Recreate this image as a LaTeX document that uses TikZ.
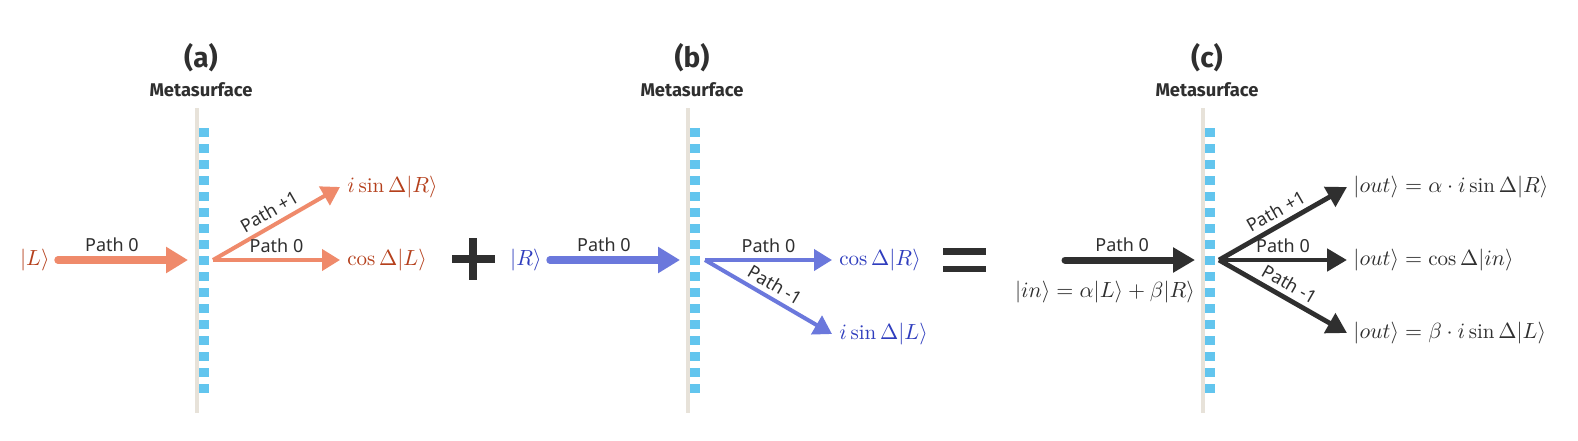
\documentclass[tikz,border=0pt]{standalone}
\usepackage{fontspec}
\newfontfamily\sansf{Noto Sans}
\newfontfamily\boldf{Fira Sans}
\usetikzlibrary{arrows.meta}
\definecolor{orA}{HTML}{EF8A6B}
\definecolor{orT}{HTML}{B5401C}
\definecolor{blA}{HTML}{6B78DC}
\definecolor{blT}{HTML}{2F3DBE}
\definecolor{dk}{HTML}{2F2F2F}
\definecolor{surf}{HTML}{E7E2D9}
\definecolor{sq}{HTML}{62C5EE}
\begin{document}
\begin{tikzpicture}[x=0.5pt,y=-0.5pt,
  title/.style={font=\boldf\bfseries\fontsize{14}{16}\selectfont, text=dk, inner sep=0pt},
  mslbl/.style={font=\boldf\bfseries\fontsize{9.2}{10}\selectfont, text=dk, inner sep=0pt},
  pathlbl/.style={font=\sansf\fontsize{9}{10}\selectfont, text=dk, above=1.5pt, inner sep=1pt},
  mathlbl/.style={font=\fontsize{10.5}{12}\selectfont, inner sep=1.5pt},
  inthick/.style={line width=3.7pt, line cap=round, -{Triangle[length=11pt,width=12.5pt]}},
  outthin/.style={line width=2pt, -{Triangle[length=9pt,width=10.5pt]}},
  outmed/.style={line width=2.4pt, -{Triangle[length=10pt,width=11pt]}},
  inmed/.style={line width=3.5pt, line cap=round, -{Triangle[length=11pt,width=12pt]}}
]
\useasboundingbox (0,0) rectangle (1578,440);
\fill[white] (0,0) rectangle (1578,440);

% metasurfaces
\foreach \sx/\cx/\nm in {197/201/a, 688/692/b, 1203/1207/c}{
  \draw[surf, line width=2pt] (\sx,108) -- (\sx,413);
  \foreach \k in {-8,...,8}{
    \fill[sq] (\sx+2,260+16*\k-4.5) rectangle ++(10,9);
  }
  \node[title] (t\nm) at (\cx,58) {(\nm)};
  \node[mslbl] (m\nm) at (\cx,90) {Metasurface};
}

% ---------- (a)
\coordinate (a0) at (58,260);
\coordinate (a1) at (188,260);
\coordinate (a2) at (213,260);
\coordinate (aup) at (340,187);
\coordinate (amid) at (340,260);
\node[mathlbl, text=orT, anchor=east] (aL) at (53,260) {$|L\rangle$};
\draw[orA, inthick] (a0) -- node[pos=0.415, pathlbl] {Path 0} (a1);
\draw[orA, outthin] (a2) -- node[midway, sloped, pathlbl] {Path +1} (aup);
\draw[orA, outthin] (a2) -- node[midway, pathlbl] {Path 0} (amid);
\node[mathlbl, text=orT, anchor=west] (aR) at (344,187) {$i\sin\Delta|R\rangle$};
\node[mathlbl, text=orT, anchor=west] (aLo) at (344,260) {$\cos\Delta|L\rangle$};

% plus
\fill[dk] (452,255) rectangle (495,263);
\fill[dk] (469,238) rectangle (477,280);

% ---------- (b)
\coordinate (b0) at (550,260);
\coordinate (b1) at (680,260);
\coordinate (b2) at (705,260);
\coordinate (bmid) at (832,260);
\coordinate (bdn) at (832,334);
\node[mathlbl, text=blT, anchor=east] (bR) at (545,260) {$|R\rangle$};
\draw[blA, inthick] (b0) -- node[pos=0.415, pathlbl] {Path 0} (b1);
\draw[blA, outthin] (b2) -- node[midway, pathlbl] {Path 0} (bmid);
\draw[blA, outthin] (b2) -- node[midway, sloped, pathlbl] {Path -1} (bdn);
\node[mathlbl, text=blT, anchor=west] (bRo) at (836,260) {$\cos\Delta|R\rangle$};
\node[mathlbl, text=blT, anchor=west] (bLo) at (836,334) {$i\sin\Delta|L\rangle$};

% equals
\fill[dk] (943,248) rectangle (986,254.5);
\fill[dk] (943,265.5) rectangle (986,272);

% ---------- (c)
\coordinate (c0) at (1065,260);
\coordinate (c1) at (1195,260);
\coordinate (c2) at (1219,260);
\coordinate (cup) at (1347,187);
\coordinate (cmid) at (1347,260);
\coordinate (cdn) at (1347,333);
\draw[dk, inmed] (c0) -- node[pos=0.44, pathlbl] {Path 0} (c1);
\node[mathlbl, text=dk] (cin) at (1105,292) {$|in\rangle = \alpha|L\rangle + \beta|R\rangle$};
\draw[dk, outmed] (c2) -- node[midway, sloped, pathlbl] {Path +1} (cup);
\draw[dk, outmed] (c2) -- node[midway, pathlbl] {Path 0} (cmid);
\draw[dk, outmed] (c2) -- node[midway, sloped, pathlbl] {Path -1} (cdn);
\node[mathlbl, text=dk, anchor=west] (co1) at (1350,187) {$|out\rangle = \alpha\cdot i\sin\Delta|R\rangle$};
\node[mathlbl, text=dk, anchor=west] (co2) at (1350,260) {$|out\rangle = \cos\Delta|in\rangle$};
\node[mathlbl, text=dk, anchor=west] (co3) at (1350,333) {$|out\rangle = \beta\cdot i\sin\Delta|L\rangle$};
\end{tikzpicture}
\end{document}
